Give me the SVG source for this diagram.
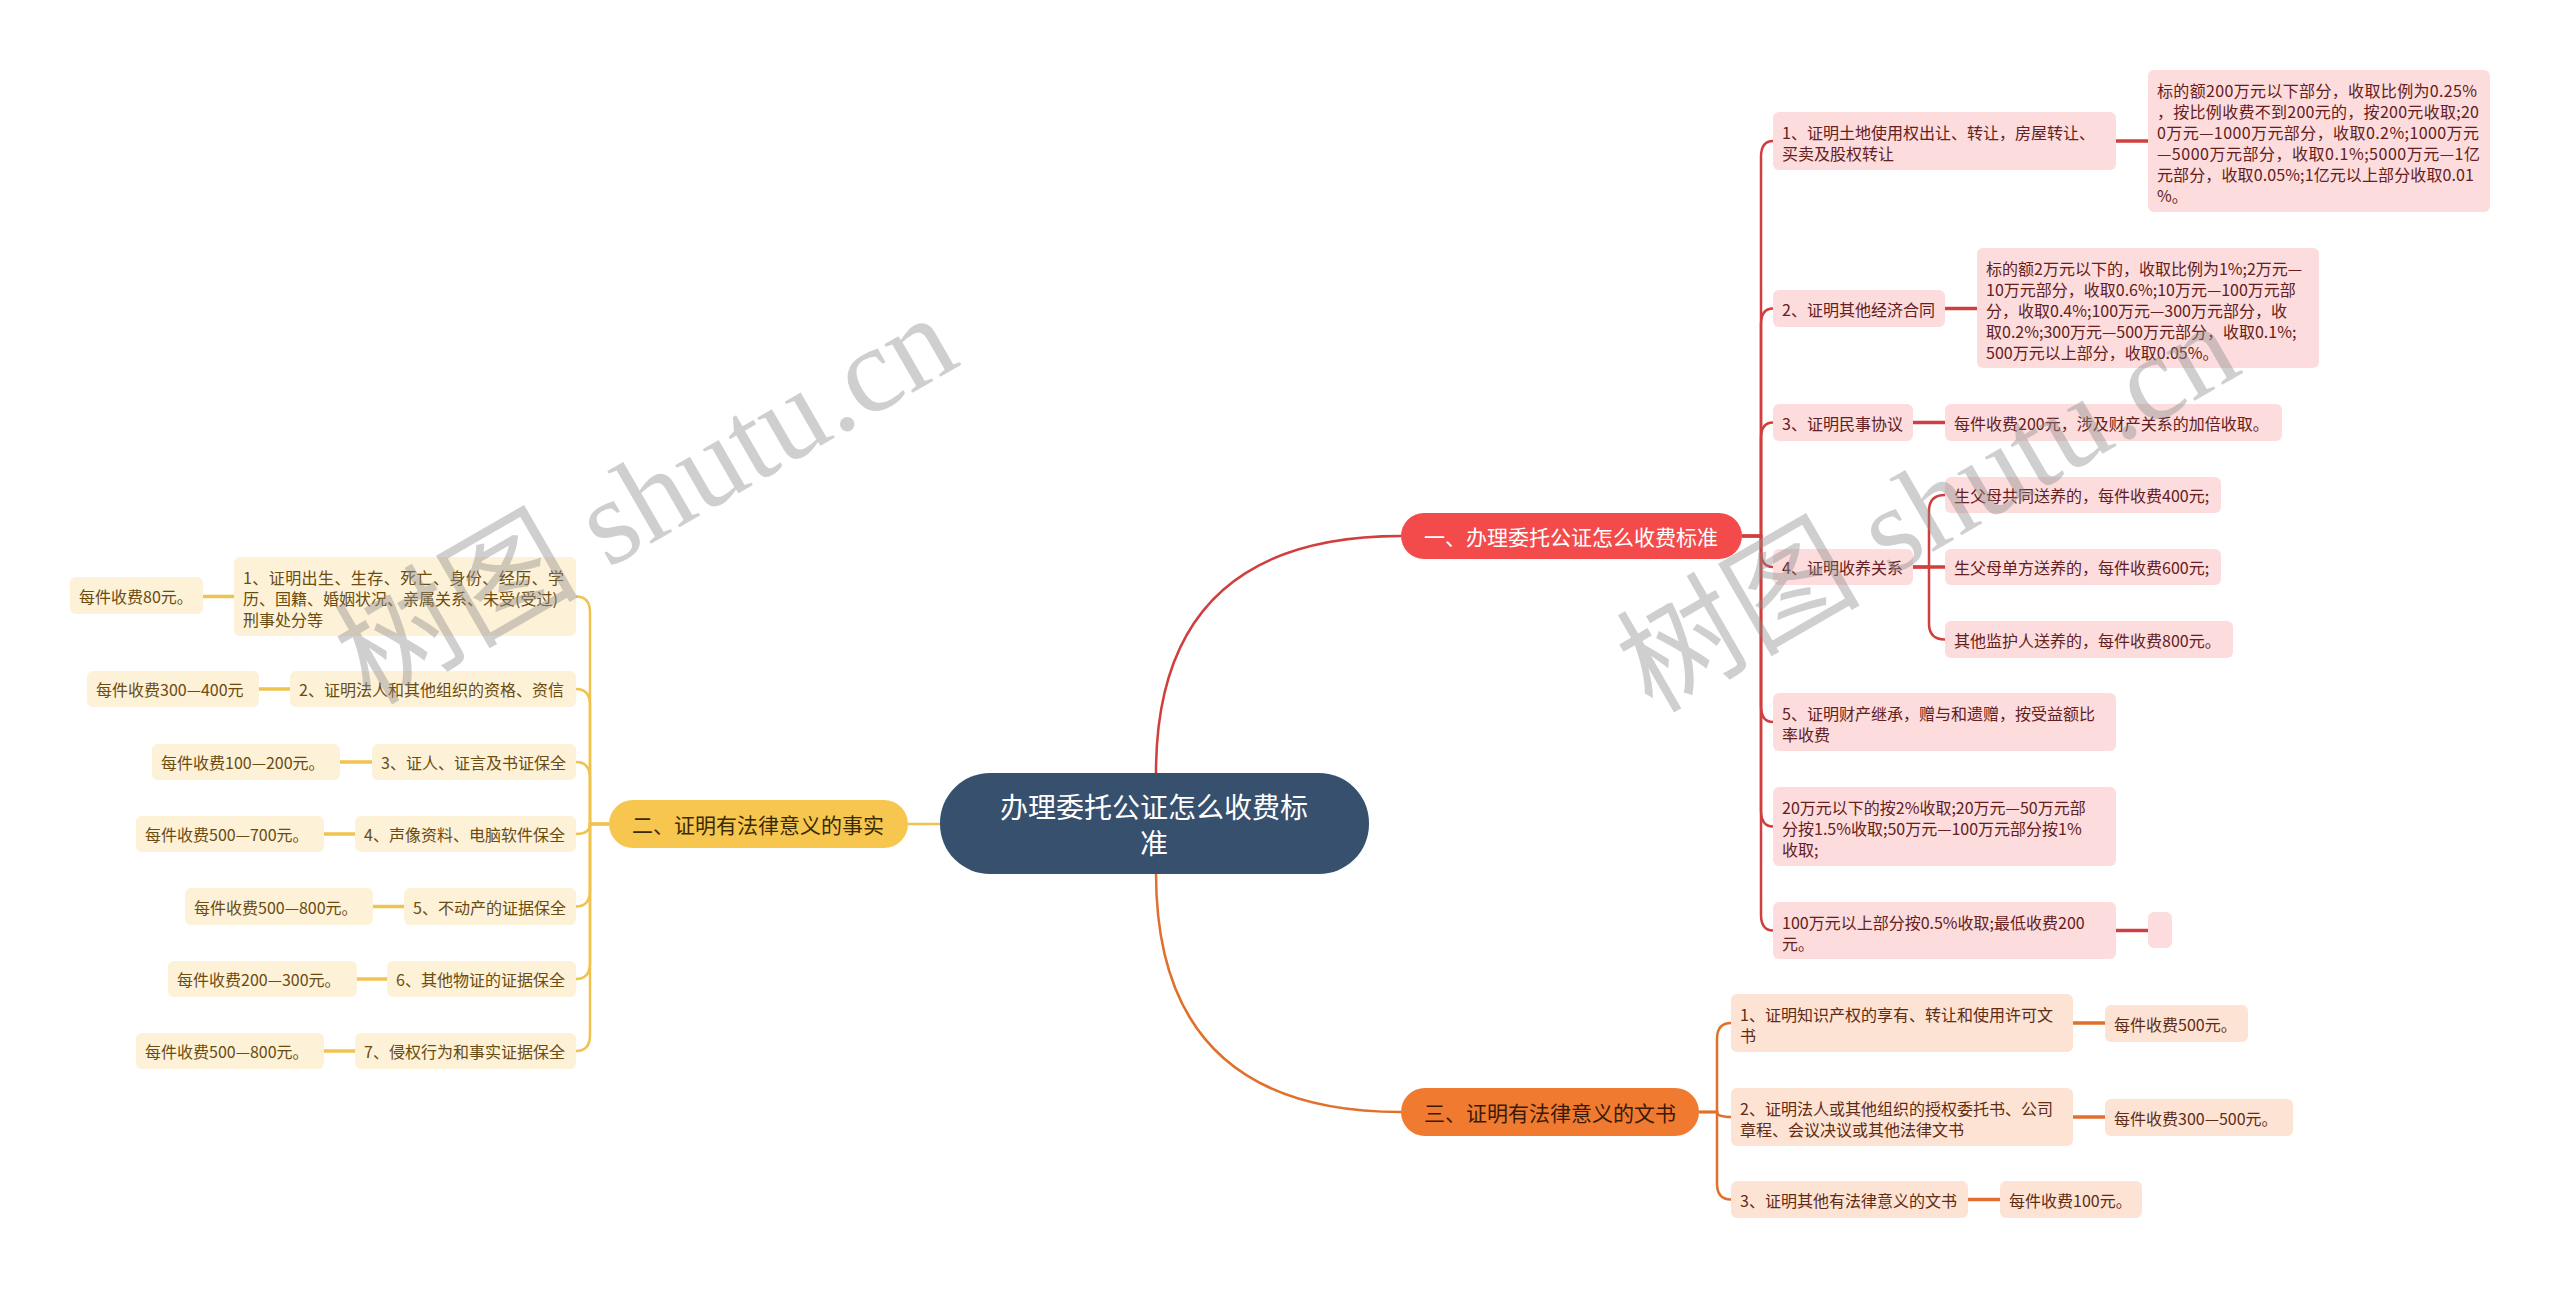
<svg xmlns="http://www.w3.org/2000/svg" width="2560" height="1289" viewBox="0 0 2560 1289">
<style>
text { font-family: "Noto Sans CJK SC", "Noto Sans", sans-serif; dominant-baseline: central; }
.root rect { fill: #37506e; }
.root text { fill: #ffffff; font-size: 28px; text-anchor: middle; }
.b1 rect { fill: #f34b4b; }
.b1 text { fill: #ffffff; font-size: 21px; text-anchor: middle; }
.b2 rect { fill: #f7c64f; }
.b2 text { fill: #3a2b06; font-size: 21px; text-anchor: middle; }
.b3 rect { fill: #f07a30; }
.b3 text { fill: #3a1a08; font-size: 21px; text-anchor: middle; }
.nr rect { fill: #fcdcdc; }
.nr text { fill: #642020; font-size: 16px; }
.ny rect { fill: #fdf1d8; }
.ny text { fill: #6a4c10; font-size: 16px; }
.no rect { fill: #fde3d4; }
.no text { fill: #5e2c14; font-size: 16px; }
.lr { stroke: #d13e3e; fill: none; stroke-width: 2.5; }
.ly { stroke: #f0c24e; fill: none; stroke-width: 2.5; }
.lo { stroke: #e0702b; fill: none; stroke-width: 2.5; }
.lk { stroke-width: 3.5; }
.wm { font-family: "Liberation Serif", "Noto Sans CJK SC", serif; font-size: 122px; fill: #8c8c8c; fill-opacity: 0.42; dominant-baseline: alphabetic; }
</style>
<rect width="2560" height="1289" fill="#ffffff"/>

<g id="connectors">
  <!-- root to branches -->
  <path class="lr" d="M1156 773 Q1156 536 1401 536"/>
  <path class="lo" d="M1156 873 Q1156 1112 1401 1112"/>
  <path class="ly" d="M940 824 L908 824"/>
  <!-- red branch to children -->
  <path class="lr" d="M1742 536 L1761 536 L1761 157 Q1761 141 1773 141"/>
  <path class="lr" d="M1742 536 L1761 536 L1761 324.5 Q1761 308.5 1773 308.5"/>
  <path class="lr" d="M1742 536 L1761 536 L1761 438.5 Q1761 422.5 1773 422.5"/>
  <path class="lr" d="M1742 536 L1761 536 L1761 551 Q1761 567 1773 567"/>
  <path class="lr" d="M1742 536 L1761 536 L1761 706 Q1761 722 1773 722"/>
  <path class="lr" d="M1742 536 L1761 536 L1761 810.5 Q1761 826.5 1773 826.5"/>
  <path class="lr" d="M1742 536 L1761 536 L1761 914.5 Q1761 930.5 1773 930.5"/>
  <!-- red children to leaves -->
  <path class="lr lk" d="M2116 141 L2148 141"/>
  <path class="lr lk" d="M1945 308.5 L1977 308.5"/>
  <path class="lr lk" d="M1913 422.5 L1945 422.5"/>
  <path class="lr" d="M1913 567 L1929 567 L1929 511 Q1929 495 1945 495"/>
  <path class="lr lk" d="M1913 567 L1945 567"/>
  <path class="lr" d="M1913 567 L1929 567 L1929 623.5 Q1929 639.5 1945 639.5"/>
  <path class="lr lk" d="M2116 930.5 L2148 930.5"/>
  <!-- yellow branch to children -->
  <path class="ly" d="M609 824 L590 824 L590 612.5 Q590 596.5 576 596.5"/>
  <path class="ly" d="M609 824 L590 824 L590 705 Q590 689 576 689"/>
  <path class="ly" d="M609 824 L590 824 L590 778 Q590 762 576 762"/>
  <path class="ly" d="M609 824 L590 824 Q590 834 576 834"/>
  <path class="ly" d="M609 824 L590 824 L590 890.5 Q590 906.5 576 906.5"/>
  <path class="ly" d="M609 824 L590 824 L590 963 Q590 979 576 979"/>
  <path class="ly" d="M609 824 L590 824 L590 1035 Q590 1051 576 1051"/>
  <!-- yellow children to leaves -->
  <path class="ly lk" d="M234 596.5 L203 596.5"/>
  <path class="ly lk" d="M290 689 L259 689"/>
  <path class="ly lk" d="M372 762 L340 762"/>
  <path class="ly lk" d="M355 834 L324 834"/>
  <path class="ly lk" d="M404 906.5 L373 906.5"/>
  <path class="ly lk" d="M387 979 L357 979"/>
  <path class="ly lk" d="M355 1051 L324 1051"/>
  <!-- orange branch to children -->
  <path class="lo" d="M1699 1112 L1717 1112 L1717 1039 Q1717 1023 1731 1023"/>
  <path class="lo" d="M1699 1112 L1717 1112 Q1717 1117 1731 1117"/>
  <path class="lo" d="M1699 1112 L1717 1112 L1717 1183.5 Q1717 1199.5 1731 1199.5"/>
  <!-- orange children to leaves -->
  <path class="lo lk" d="M2073 1023 L2105 1023"/>
  <path class="lo lk" d="M2073 1117 L2105 1117"/>
  <path class="lo lk" d="M1968 1199.5 L2000 1199.5"/>
</g>

<g id="root" class="root">
  <rect x="940" y="773" width="429" height="101" rx="50"/>
  <text x="1154" y="806">办理委托公证怎么收费标</text>
  <text x="1154" y="842">准</text>
</g>

<g id="branch1" class="b1">
  <rect x="1401" y="513" width="341" height="46" rx="23"/>
  <text x="1571" y="536">一、办理委托公证怎么收费标准</text>
</g>
<g id="branch2" class="b2">
  <rect x="609" y="800" width="299" height="48" rx="24"/>
  <text x="758" y="824">二、证明有法律意义的事实</text>
</g>
<g id="branch3" class="b3">
  <rect x="1401" y="1088" width="298" height="48" rx="24"/>
  <text x="1550" y="1112">三、证明有法律意义的文书</text>
</g>

<!-- red children -->
<g id="r1" class="nr">
  <rect x="1773" y="112" width="343" height="58" rx="6"/>
  <text x="1782" y="132">1、证明土地使用权出让、转让，房屋转让、</text>
  <text x="1782" y="153">买卖及股权转让</text>
</g>
<g id="r1a" class="nr">
  <rect x="2148" y="70" width="342" height="142" rx="6"/>
  <text x="2157" y="90" textLength="320" lengthAdjust="spacing">标的额200万元以下部分，收取比例为0.25%</text>
  <text x="2157" y="111" textLength="322" lengthAdjust="spacing">，按比例收费不到200元的，按200元收取;20</text>
  <text x="2157" y="132" textLength="322" lengthAdjust="spacing">0万元—1000万元部分，收取0.2%;1000万元</text>
  <text x="2157" y="153" textLength="323" lengthAdjust="spacing">—5000万元部分，收取0.1%;5000万元—1亿</text>
  <text x="2157" y="174" textLength="317" lengthAdjust="spacing">元部分，收取0.05%;1亿元以上部分收取0.01</text>
  <text x="2157" y="195">%。</text>
</g>
<g id="r2" class="nr">
  <rect x="1773" y="290" width="172" height="37" rx="6"/>
  <text x="1782" y="308.5">2、证明其他经济合同</text>
</g>
<g id="r2a" class="nr">
  <rect x="1977" y="248" width="342" height="120" rx="6"/>
  <text x="1986" y="268">标的额2万元以下的，收取比例为1%;2万元—</text>
  <text x="1986" y="289">10万元部分，收取0.6%;10万元—100万元部</text>
  <text x="1986" y="310">分，收取0.4%;100万元—300万元部分，收</text>
  <text x="1986" y="331">取0.2%;300万元—500万元部分，收取0.1%;</text>
  <text x="1986" y="352">500万元以上部分，收取0.05%。</text>
</g>
<g id="r3" class="nr">
  <rect x="1773" y="404" width="140" height="37" rx="6"/>
  <text x="1782" y="422.5">3、证明民事协议</text>
</g>
<g id="r3a" class="nr">
  <rect x="1945" y="404" width="337" height="37" rx="6"/>
  <text x="1954" y="422.5">每件收费200元，涉及财产关系的加倍收取。</text>
</g>
<g id="r4" class="nr">
  <rect x="1773" y="549" width="140" height="36" rx="6"/>
  <text x="1782" y="567">4、证明收养关系</text>
</g>
<g id="r4a" class="nr">
  <rect x="1945" y="477" width="276" height="36" rx="6"/>
  <text x="1954" y="495">生父母共同送养的，每件收费400元;</text>
</g>
<g id="r4b" class="nr">
  <rect x="1945" y="549" width="276" height="36" rx="6"/>
  <text x="1954" y="567">生父母单方送养的，每件收费600元;</text>
</g>
<g id="r4c" class="nr">
  <rect x="1945" y="621" width="288" height="37" rx="6"/>
  <text x="1954" y="639.5">其他监护人送养的，每件收费800元。</text>
</g>
<g id="r5" class="nr">
  <rect x="1773" y="693" width="343" height="58" rx="6"/>
  <text x="1782" y="713">5、证明财产继承，赠与和遗赠，按受益额比</text>
  <text x="1782" y="734">率收费</text>
</g>
<g id="r6" class="nr">
  <rect x="1773" y="787" width="343" height="79" rx="6"/>
  <text x="1782" y="807">20万元以下的按2%收取;20万元—50万元部</text>
  <text x="1782" y="828">分按1.5%收取;50万元—100万元部分按1%</text>
  <text x="1782" y="849">收取;</text>
</g>
<g id="r7" class="nr">
  <rect x="1773" y="902" width="343" height="57" rx="6"/>
  <text x="1782" y="922">100万元以上部分按0.5%收取;最低收费200</text>
  <text x="1782" y="943">元。</text>
</g>
<g id="r7a" class="nr">
  <rect x="2148" y="912" width="24" height="36" rx="6"/>
</g>

<!-- yellow children -->
<g id="y1" class="ny">
  <rect x="234" y="557" width="342" height="79" rx="6"/>
  <text x="243" y="577" textLength="321" lengthAdjust="spacing">1、证明出生、生存、死亡、身份、经历、学</text>
  <text x="243" y="598">历、国籍、婚姻状况、亲属关系、未受(受过)</text>
  <text x="243" y="619">刑事处分等</text>
</g>
<g id="y1a" class="ny">
  <rect x="70" y="577" width="133" height="37" rx="6"/>
  <text x="79" y="595.5">每件收费80元。</text>
</g>
<g id="y2" class="ny">
  <rect x="290" y="671" width="286" height="36" rx="6"/>
  <text x="299" y="689">2、证明法人和其他组织的资格、资信</text>
</g>
<g id="y2a" class="ny">
  <rect x="87" y="671" width="172" height="36" rx="6"/>
  <text x="96" y="689">每件收费300—400元</text>
</g>
<g id="y3" class="ny">
  <rect x="372" y="744" width="204" height="36" rx="6"/>
  <text x="381" y="762">3、证人、证言及书证保全</text>
</g>
<g id="y3a" class="ny">
  <rect x="152" y="744" width="188" height="36" rx="6"/>
  <text x="161" y="762">每件收费100—200元。</text>
</g>
<g id="y4" class="ny">
  <rect x="355" y="816" width="221" height="36" rx="6"/>
  <text x="364" y="834">4、声像资料、电脑软件保全</text>
</g>
<g id="y4a" class="ny">
  <rect x="136" y="816" width="188" height="36" rx="6"/>
  <text x="145" y="834">每件收费500—700元。</text>
</g>
<g id="y5" class="ny">
  <rect x="404" y="888" width="172" height="37" rx="6"/>
  <text x="413" y="906.5">5、不动产的证据保全</text>
</g>
<g id="y5a" class="ny">
  <rect x="185" y="888" width="188" height="37" rx="6"/>
  <text x="194" y="906.5">每件收费500—800元。</text>
</g>
<g id="y6" class="ny">
  <rect x="387" y="961" width="189" height="36" rx="6"/>
  <text x="396" y="979">6、其他物证的证据保全</text>
</g>
<g id="y6a" class="ny">
  <rect x="168" y="961" width="189" height="36" rx="6"/>
  <text x="177" y="979">每件收费200—300元。</text>
</g>
<g id="y7" class="ny">
  <rect x="355" y="1033" width="221" height="36" rx="6"/>
  <text x="364" y="1051">7、侵权行为和事实证据保全</text>
</g>
<g id="y7a" class="ny">
  <rect x="136" y="1033" width="188" height="36" rx="6"/>
  <text x="145" y="1051">每件收费500—800元。</text>
</g>

<!-- orange children -->
<g id="o1" class="no">
  <rect x="1731" y="994" width="342" height="58" rx="6"/>
  <text x="1740" y="1014">1、证明知识产权的享有、转让和使用许可文</text>
  <text x="1740" y="1035">书</text>
</g>
<g id="o1a" class="no">
  <rect x="2105" y="1005" width="143" height="37" rx="6"/>
  <text x="2114" y="1023.5">每件收费500元。</text>
</g>
<g id="o2" class="no">
  <rect x="1731" y="1088" width="342" height="58" rx="6"/>
  <text x="1740" y="1108">2、证明法人或其他组织的授权委托书、公司</text>
  <text x="1740" y="1129">章程、会议决议或其他法律文书</text>
</g>
<g id="o2a" class="no">
  <rect x="2105" y="1099" width="188" height="37" rx="6"/>
  <text x="2114" y="1117.5">每件收费300—500元。</text>
</g>
<g id="o3" class="no">
  <rect x="1731" y="1181" width="237" height="37" rx="6"/>
  <text x="1740" y="1199.5">3、证明其他有法律意义的文书</text>
</g>
<g id="o3a" class="no">
  <rect x="2000" y="1181" width="142" height="37" rx="6"/>
  <text x="2009" y="1199.5">每件收费100元。</text>
</g>

<!-- watermarks -->
<text class="wm" transform="translate(370 706) rotate(-30)">树图 shutu.cn</text>
<text class="wm" transform="translate(1652 714) rotate(-30)">树图 shutu.cn</text>
</svg>
